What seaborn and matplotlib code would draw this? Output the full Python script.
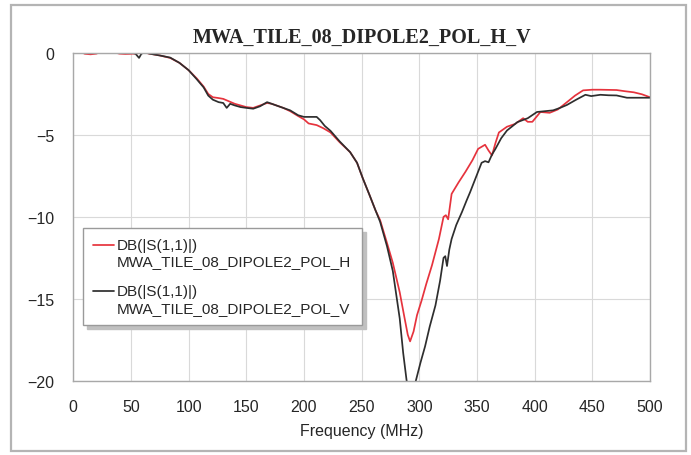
import matplotlib
matplotlib.use("Agg")
import matplotlib.pyplot as plt
from matplotlib.patches import Rectangle
from matplotlib.lines import Line2D
from matplotlib.legend_handler import HandlerLine2D
import numpy as np
import pandas as pd
import seaborn as sns

# Return loss of the H polarisation port
freq_h = [0, 5, 10, 15, 20, 25, 30, 35, 40, 45, 50, 55, 60, 66, 75, 84, 92,
          100, 107, 113, 117, 121, 126, 130, 135, 140, 145, 150, 156, 162,
          168, 172, 176, 182, 188, 195, 200, 204, 211, 217, 223, 231, 240,
          246, 251, 257, 262, 266, 272, 277, 283, 287, 290, 292, 295, 298,
          302, 306, 311, 317, 321, 323, 325, 328, 334, 340, 346, 351, 357,
          360, 363, 366, 369, 376, 383, 390, 394, 398, 405, 413, 420, 428,
          435, 442, 450, 457, 464, 471, 478, 486, 493, 500]
s11_h = [0.2, 0.12, -0.05, -0.08, -0.04, 0.1, 0.15, 0.05, -0.04, -0.06,
         -0.05, -0.03, 0.05, -0.04, -0.15, -0.3, -0.6, -1.05, -1.55, -2.05,
         -2.5, -2.7, -2.75, -2.8, -2.95, -3.1, -3.2, -3.3, -3.35, -3.2, -3.05,
         -3.1, -3.2, -3.35, -3.55, -3.85, -4.05, -4.3, -4.4, -4.6, -4.85,
         -5.45, -6.05, -6.7, -7.65, -8.7, -9.6, -10.2, -11.6, -12.8, -14.6,
         -16.1, -17.2, -17.6, -17.0, -16.0, -15.1, -14.1, -12.95, -11.35,
         -10.0, -9.9, -10.15, -8.6, -7.9, -7.25, -6.55, -5.85, -5.6, -5.95,
         -6.25, -5.5, -4.85, -4.5, -4.33, -3.98, -4.2, -4.2, -3.6, -3.65,
         -3.45, -3.0, -2.6, -2.28, -2.24, -2.24, -2.25, -2.26, -2.33, -2.4,
         -2.52, -2.7]

# Return loss of the V polarisation port
freq_v = [0, 5, 10, 15, 20, 25, 30, 35, 40, 45, 50, 54, 57, 59, 62, 66, 75,
          84, 92, 100, 107, 113, 117, 121, 126, 130, 133, 136, 140, 145, 150,
          156, 162, 168, 172, 176, 182, 188, 195, 200, 205, 211, 214, 218,
          223, 231, 240, 246, 251, 257, 262, 266, 272, 277, 283, 286, 289,
          293, 297, 301, 305, 309, 314, 318, 321, 322.5, 324, 326, 328, 332,
          337, 341, 344, 349, 354, 357, 360, 363, 366, 371, 376, 381, 385,
          394, 402, 409, 416, 422, 428, 436, 444, 449, 457, 464, 471, 480,
          490, 500]
s11_v = [0.2, 0.15, 0.1, 0.05, 0.03, 0.05, 0.1, 0.05, 0.03, 0.02, 0.03,
         -0.05, -0.3, -0.05, 0.05, -0.04, -0.15, -0.28, -0.6, -1.05, -1.6,
         -2.1, -2.6, -2.85, -3.0, -3.05, -3.35, -3.1, -3.2, -3.3, -3.35, -3.4,
         -3.25, -3.0, -3.1, -3.2, -3.35, -3.5, -3.8, -3.9, -3.9, -3.9, -4.1,
         -4.45, -4.75, -5.4, -6.05, -6.7, -7.65, -8.7, -9.6, -10.3, -11.8,
         -13.3, -16.2, -18.3, -20.0, -21.0, -20.0, -18.9, -17.9, -16.7, -15.4,
         -13.9, -12.5, -12.4, -13.0, -12.0, -11.35, -10.5, -9.7, -9.0, -8.5,
         -7.6, -6.7, -6.6, -6.67, -6.2, -5.85, -5.2, -4.73, -4.45, -4.22,
         -3.98, -3.6, -3.55, -3.5, -3.35, -3.17, -2.85, -2.55, -2.63, -2.55,
         -2.58, -2.59, -2.73, -2.73, -2.73]

label_h = "DB(|S(1,1)|)\nMWA_TILE_08_DIPOLE2_POL_H"
label_v = "DB(|S(1,1)|)\nMWA_TILE_08_DIPOLE2_POL_V"
title = "MWA_TILE_08_DIPOLE2_POL_H_V"
x_ticks = [0, 50, 100, 150, 200, 250, 300, 350, 400, 450, 500]
y_ticks = [0, -5, -10, -15, -20]


class FirstLineHandler(HandlerLine2D):
    """Places the legend line beside the first line of a two-line label."""

    def create_artists(self, legend, orig_handle, xdescent, ydescent,
                       width, height, fontsize, trans):
        artists = super().create_artists(legend, orig_handle, xdescent,
                                         ydescent, width, height, fontsize,
                                         trans)
        for a in artists:
            if isinstance(a, Line2D):
                a.set_ydata(np.asarray(a.get_ydata()) + 0.58 * fontsize)
        return artists


sns.set_style("whitegrid", {"grid.color": "#d9d9d9",
                            "axes.edgecolor": "#a8a8a8"})
plt.rcParams["font.family"] = ["Liberation Sans", "DejaVu Sans"]

df = pd.concat([
    pd.DataFrame({"Frequency (MHz)": freq_h, "dB": s11_h, "trace": label_h}),
    pd.DataFrame({"Frequency (MHz)": freq_v, "dB": s11_v, "trace": label_v}),
], ignore_index=True)

fig = plt.figure(figsize=(6.91, 4.56), dpi=100)
ax = fig.add_axes([73.3 / 691, 1 - 381.7 / 456, (650 - 73.3) / 691,
                   (381.7 - 54) / 456])

sns.lineplot(data=df, x="Frequency (MHz)", y="dB", hue="trace",
             palette=["#e6333d", "#2e2e2e"], estimator=None, sort=False,
             linewidth=1.25, ax=ax)

ax.set_xlim(0, 500)
ax.set_ylim(-20, 0)
ax.set_xticks(x_ticks)
ax.set_yticks(y_ticks)
ax.grid(True, color="#d9d9d9", linewidth=0.8)
for sp in ax.spines.values():
    sp.set_color("#a8a8a8")
    sp.set_linewidth(1.0)
ax.tick_params(length=0, pad=13.5, labelsize=11.5, colors="#262626")
ax.set_xlabel("Frequency (MHz)", fontsize=11.5, color="#262626", labelpad=6)
ax.set_ylabel("")
ax.set_title(title, fontsize=14.5, fontweight="bold",
             fontfamily=["Liberation Serif", "DejaVu Serif"], pad=8)

handles, labels = ax.get_legend_handles_labels()
leg = ax.legend(handles, labels, loc="upper left",
                bbox_to_anchor=(0.016, 0.4675), borderaxespad=0,
                fontsize=11, fancybox=False, frameon=True,
                edgecolor="#9a9a9a", framealpha=1,
                shadow={"ox": 3, "oy": -3, "color": "#c0c0c0", "alpha": 1},
                handlelength=1.35, handletextpad=0.2, labelspacing=1.05,
                borderpad=0.7,
                handler_map={Line2D: FirstLineHandler()})
for t in leg.get_texts():
    t.set_color("#262626")
for h in leg.get_lines():
    h.set_linewidth(1.25)

fig.patches.append(Rectangle((11 / 691, 1 - 452 / 456), 675 / 691, 446 / 456,
                             transform=fig.transFigure, fill=False,
                             edgecolor="#b4b4b4", linewidth=1.6))

fig.savefig("out.png", dpi=100, facecolor="white")
